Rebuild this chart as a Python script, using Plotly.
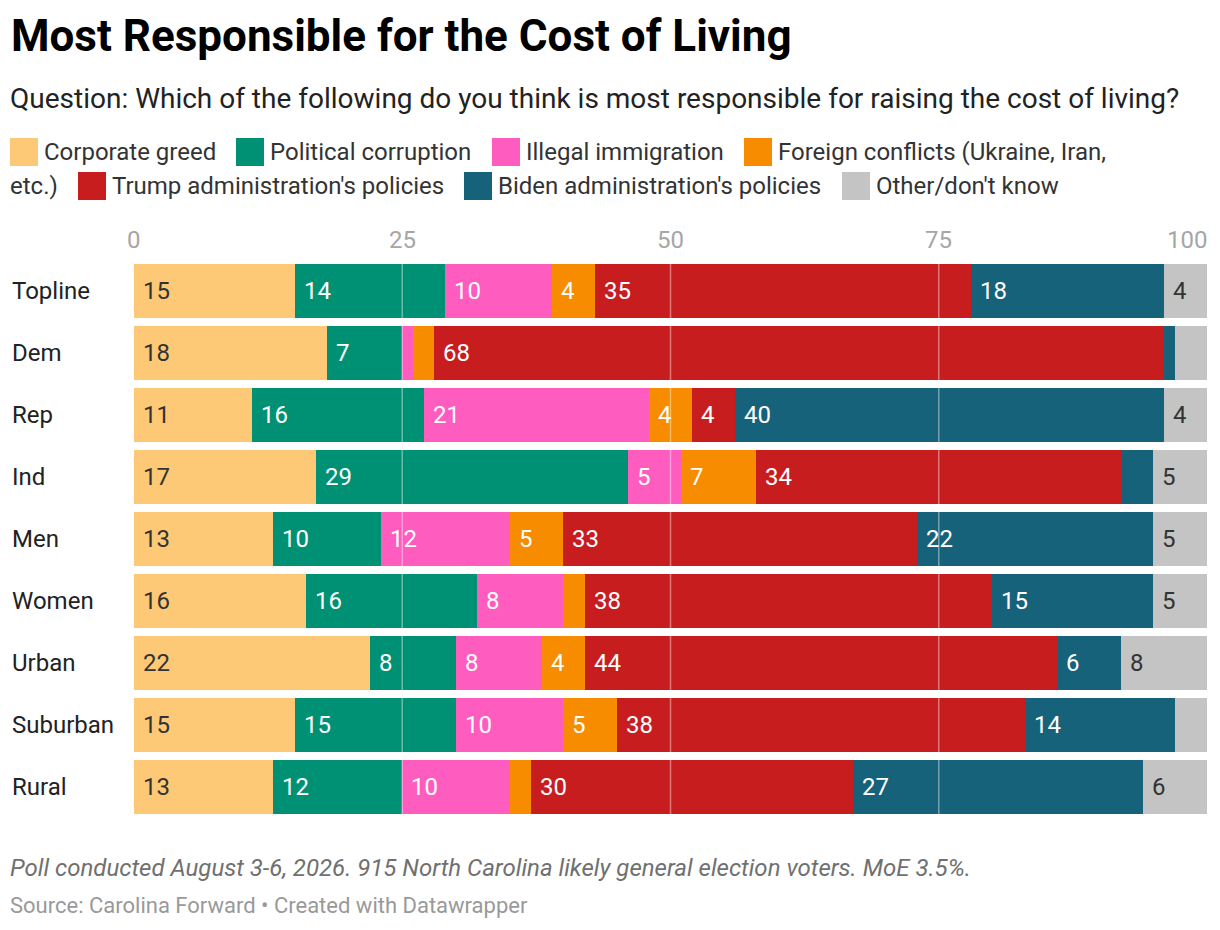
import plotly.graph_objects as go

# groups shown as rows, top to bottom
groups = ["Topline", "Dem", "Rep", "Ind", "Men", "Women", "Urban", "Suburban", "Rural"]

series_names = [
    "Corporate greed",
    "Political corruption",
    "Illegal immigration",
    "Foreign conflicts (Ukraine, Iran, etc.)",
    "Trump administration's policies",
    "Biden administration's policies",
    "Other/don't know",
]

corporate_greed = [15, 18, 11, 17, 13, 16, 22, 15, 13]
political_corruption = [14, 7, 16, 29, 10, 16, 8, 15, 12]
illegal_immigration = [10, 1, 21, 5, 12, 8, 8, 10, 10]
foreign_conflicts = [4, 2, 4, 7, 5, 2, 4, 5, 2]
trump_policies = [35, 68, 4, 34, 33, 38, 44, 38, 30]
biden_policies = [18, 1, 40, 3, 22, 15, 6, 14, 27]
other_dont_know = [4, 3, 4, 5, 5, 5, 8, 3, 6]

x_ticks = [0, 25, 50, 75, 100]

colors = ["#fdc977", "#009174", "#ff5cbf", "#f78c00", "#c81d1f", "#17627b", "#c4c4c4"]
label_colors = ["#333333", "white", "white", "white", "white", "white", "#333333"]

series_values = [corporate_greed, political_corruption, illegal_immigration,
                 foreign_conflicts, trump_policies, biden_policies, other_dont_know]

# the page puts the figure 8px in from the top-left corner
OFF = 8
W, H = 1220 - OFF, 930 - OFF
L, T = 134 - OFF, 260 - OFF
R, B = W - (1207 - OFF), H - (818 - OFF)
PW, PH = W - L - R, H - T - B


def px_x(px):
    # px measured on the 1220x930 screenshot
    return (px - OFF - L) / PW


def px_y(py):
    return (H - B - (py - OFF)) / PH


fig = go.Figure()

for name, vals, col in zip(series_names, series_values, colors):
    fig.add_trace(go.Bar(
        y=groups, x=vals, name=name, orientation="h",
        marker=dict(color=col, line=dict(width=0)),
        hoverinfo="x+name", showlegend=False,
    ))

annotations = []

# value labels inside the bars
for i, g in enumerate(groups):
    start = 0
    for vals, tcol in zip(series_values, label_colors):
        v = vals[i]
        if v >= 4:
            annotations.append(dict(
                x=start, y=g, xref="x", yref="y", text=str(v), showarrow=False,
                xanchor="left", yanchor="middle", xshift=7,
                font=dict(size=24, color=tcol),
            ))
        start += v

# row labels
for g in groups:
    annotations.append(dict(
        x=px_x(10), y=g, xref="paper", yref="y", text=g, showarrow=False,
        xanchor="left", yanchor="middle", font=dict(size=24, color="#222222"),
    ))

# axis tick labels on top
for t in x_ticks:
    annotations.append(dict(
        x=t, y=px_y(240), xref="x", yref="paper", text=str(t), showarrow=False,
        xanchor="right" if t == 100 else "center", yanchor="middle",
        xshift=2 if t == 100 else 0,
        font=dict(size=24, color="#a6a6a6"),
    ))

# title, subtitle, notes
annotations += [
    dict(x=px_x(9), y=px_y(36), xref="paper", yref="paper", showarrow=False,
         xanchor="left", yanchor="middle",
         text="<b>Most Responsible for the Cost of Living</b>",
         font=dict(size=44, color="#000000")),
    dict(x=px_x(8), y=px_y(98), xref="paper", yref="paper", showarrow=False,
         xanchor="left", yanchor="middle",
         text="Question: Which of the following do you think is most responsible for raising the cost of living?",
         font=dict(size=28, color="#222222")),
    dict(x=px_x(8), y=px_y(868), xref="paper", yref="paper", showarrow=False,
         xanchor="left", yanchor="middle",
         text="<i>Poll conducted August 3-6, 2026. 915 North Carolina likely general election voters. MoE 3.5%.</i>",
         font=dict(size=24, color="#707070")),
    dict(x=px_x(8), y=px_y(905), xref="paper", yref="paper", showarrow=False,
         xanchor="left", yanchor="middle",
         text="Source: Carolina Forward • Created with Datawrapper",
         font=dict(size=22, color="#999999")),
]

# custom legend, wrapped like the original
legend_items = [
    (10, 152, 0, "Corporate greed"),
    (236, 152, 1, "Political corruption"),
    (492, 152, 2, "Illegal immigration"),
    (744, 152, 3, "Foreign conflicts (Ukraine, Iran,"),
    (78, 186, 4, "Trump administration's policies"),
    (464, 186, 5, "Biden administration's policies"),
    (842, 186, 6, "Other/don't know"),
]
shapes = []
for sx, sy, idx, label in legend_items:
    shapes.append(dict(type="rect", xref="paper", yref="paper",
                       x0=px_x(sx), x1=px_x(sx + 28), y0=px_y(sy + 14), y1=px_y(sy - 14),
                       fillcolor=colors[idx], line=dict(width=0)))
    annotations.append(dict(x=px_x(sx + 32), y=px_y(sy), xref="paper", yref="paper",
                            showarrow=False, xanchor="left", yanchor="middle", text=label,
                            font=dict(size=24, color="#333333")))
annotations.append(dict(x=px_x(8), y=px_y(186), xref="paper", yref="paper",
                        showarrow=False, xanchor="left", yanchor="middle", text="etc.)",
                        font=dict(size=24, color="#333333")))

# grid lines drawn over the bars
for t in x_ticks[1:-1]:
    shapes.append(dict(type="line", xref="x", yref="paper", x0=t, x1=t, y0=0, y1=1,
                       line=dict(color="rgba(255,255,255,0.4)", width=1.5), layer="above"))

fig.update_layout(
    width=W, height=H,
    margin=dict(l=L, r=R, t=T, b=B),
    barmode="stack", bargap=0.13,
    paper_bgcolor="white", plot_bgcolor="white",
    font=dict(family="Roboto", size=24, color="#333333"),
    xaxis=dict(range=[0, 100], showgrid=False, zeroline=False, showticklabels=False,
               fixedrange=True),
    yaxis=dict(autorange="reversed", showticklabels=False, showgrid=False, zeroline=False,
               fixedrange=True),
    annotations=annotations, shapes=shapes,
    showlegend=False,
)

fig.write_html("out.html")
